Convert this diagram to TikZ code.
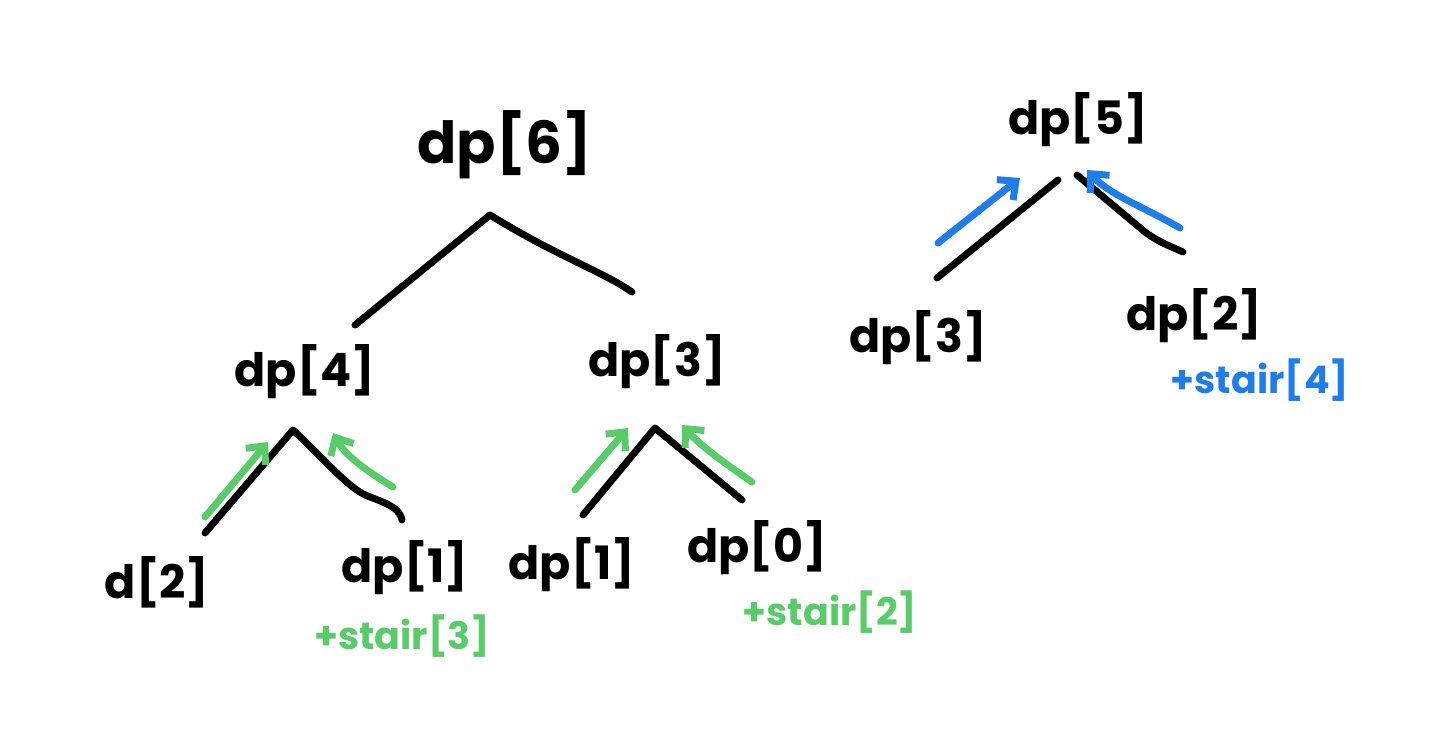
\documentclass[tikz,border=0pt]{standalone}
\usepackage{fontspec}
\setmainfont{Poppins}
\usetikzlibrary{arrows.meta}
\definecolor{hgreen}{RGB}{88,204,104}
\definecolor{hblue}{RGB}{30,125,235}
\tikzset{
  lbl/.style={font=\fontsize{46}{46}\selectfont\bfseries, text=black, inner sep=0pt},
  biglbl/.style={font=\fontsize{58}{58}\selectfont\bfseries, text=black, inner sep=0pt},
  glbl/.style={font=\fontsize{38}{38}\selectfont\bfseries, text=hgreen, inner sep=0pt},
  blbl/.style={font=\fontsize{38}{38}\selectfont\bfseries, text=hblue, inner sep=0pt},
  edge/.style={line width=7pt, line cap=round, line join=round, black},
  garrow/.style={line width=7pt, line cap=round, line join=round, hgreen, -{Straight Barb[length=14pt,width=26pt,line width=7pt]}},
  barrow/.style={line width=7pt, line cap=round, line join=round, hblue, -{Straight Barb[length=14pt,width=26pt,line width=7pt]}},
}
\begin{document}
\begin{tikzpicture}[x=1pt,y=-1pt]
\useasboundingbox (0,0) rectangle (1440,736);
% labels
\node[biglbl] (n6) at (505,145) {dp[6]};
\node[lbl] (n4) at (305,372) {dp[4]};
\node[lbl] (n3) at (657,362) {dp[3]};
\node[lbl] (n2a) at (157,582) {d[2]};
\node[lbl] (n1a) at (405,568) {dp[1]};
\node[glbl] (s3) at (402,636) {+stair[3]};
\node[lbl] (n1b) at (572,565) {dp[1]};
\node[lbl] (n0) at (757,548) {dp[0]};
\node[glbl] (s2) at (830,612) {+stair[2]};
\node[lbl] (n5) at (1078,120) {dp[5]};
\node[lbl] (n3r) at (918,338) {dp[3]};
\node[lbl] (n2r) at (1194,316) {dp[2]};
\node[blbl] (s4) at (1260,380) {+stair[4]};
% junction points
\coordinate (j6) at (490,215);
\coordinate (j4) at (293,430);
\coordinate (j3) at (655,428);
% dp[6] tree
\draw[edge] (355,325) -- (j6) .. controls (560,258) and (600,270) .. (632,292);
% dp[4] tree
\draw[edge] (205,533) -- (j4) .. controls (330,465) and (350,490) .. (370,497) .. controls (392,505) and (400,510) .. (402,520);
% dp[3] tree
\draw[edge] (583,515) -- (j3) -- (742,500);
% dp[5] tree
\draw[edge] (937,278) -- (1058,180);
\draw[edge] (1077,175) -- (1145,232) .. controls (1160,243) and (1170,246) .. (1183,252);
% green arrows
\draw[garrow] (205,517) -- (268,442);
\draw[garrow] (393,487) .. controls (365,470) and (345,455) .. (333,433);
\draw[garrow] (575,490) -- (628,428);
\draw[garrow] (752,482) .. controls (720,460) and (700,445) .. (682,425);
% blue arrows
\draw[barrow] (938,243) -- (1020,178);
\draw[barrow] (1180,228) .. controls (1140,205) and (1110,195) .. (1087,170);
\end{tikzpicture}
\end{document}
